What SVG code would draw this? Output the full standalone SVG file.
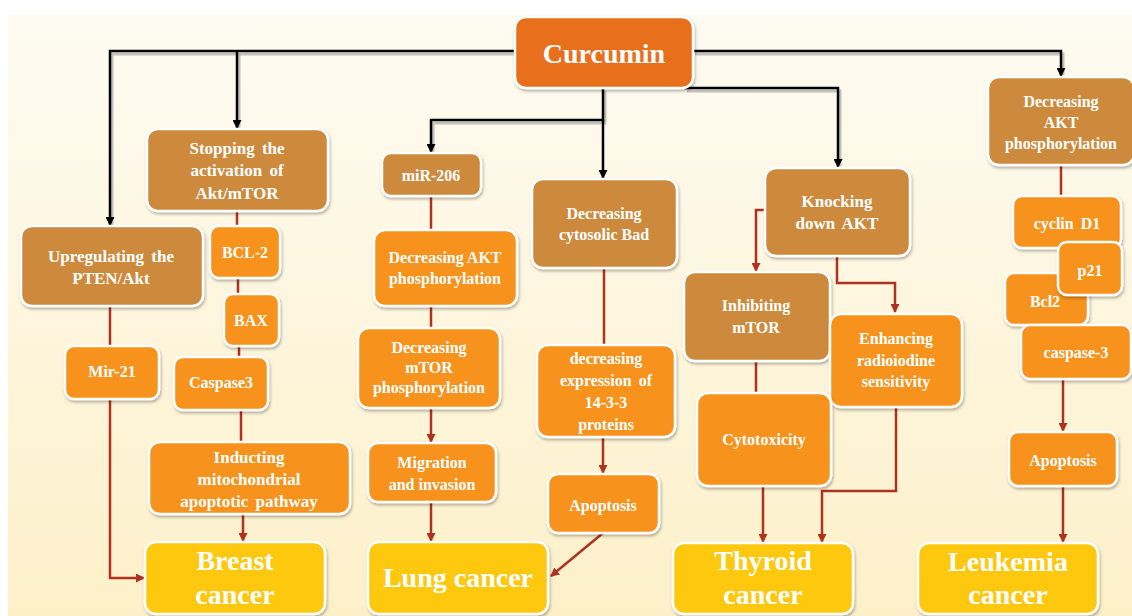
<svg xmlns="http://www.w3.org/2000/svg" width="1132" height="616" viewBox="0 0 1132 616">
<defs>
<linearGradient id="bg" x1="0" y1="0" x2="0" y2="1">
<stop offset="0" stop-color="#fefbf2"/>
<stop offset="1" stop-color="#fdf0c9"/>
</linearGradient>
<filter id="sh" x="-10%" y="-10%" width="120%" height="130%">
<feDropShadow dx="1" dy="2" stdDeviation="1.5" flood-color="#000" flood-opacity="0.3"/>
</filter>
<marker id="ab" markerUnits="userSpaceOnUse" markerWidth="9" markerHeight="9" refX="8" refY="4.5" orient="auto">
<path d="M0,0 L9,4.5 L0,9 z" fill="#000"/>
</marker>
<marker id="ar" markerUnits="userSpaceOnUse" markerWidth="9" markerHeight="9" refX="8" refY="4.5" orient="auto">
<path d="M0,0 L9,4.5 L0,9 z" fill="#b0321e"/>
</marker>
</defs>
<style>
.box{stroke:#fff;stroke-width:2.5;filter:url(#sh)}
.br{fill:#cd8a3d}
.or{fill:#f7931e}
.cu{fill:#e8701a}
.ca{fill:#fdc80c}
text{font-family:"Liberation Serif","Times New Roman",serif;font-weight:bold;fill:#fff;text-anchor:middle}
.t{font-size:16px}
.tb{font-size:17px;word-spacing:3px}
.big{font-size:28px}
.blk{fill:none;stroke:#000;stroke-width:2.5}
.bsh{fill:none;stroke:#9a9a9a;stroke-width:3;opacity:0.6}
.red{fill:none;stroke:#b0321e;stroke-width:2.5}
</style>
<rect x="0" y="0" width="1132" height="616" fill="#fff"/>
<rect x="8" y="15" width="1124" height="601" fill="url(#bg)"/>

<g id="connectors">
<g transform="translate(2,3)">
<path class="bsh" d="M515 51 H110 V222"/>
<path class="bsh" d="M237 51 V125"/>
<path class="bsh" d="M603 88 V120 H431 V149"/>
<path class="bsh" d="M693 51 H1061 V72"/>
<path class="bsh" d="M685 88 H838 V163"/>
</g>
<path class="blk" d="M515 51 H110 V225" marker-end="url(#ab)"/>
<path class="blk" d="M237 51 V128" marker-end="url(#ab)"/>
<path class="blk" d="M603 88 V120 H431 V152" marker-end="url(#ab)"/>
<path class="blk" d="M603 120 V178" marker-end="url(#ab)"/>
<path class="blk" d="M693 51 H1061 V76" marker-end="url(#ab)"/>
<path class="blk" d="M685 88 H838 V167" marker-end="url(#ab)"/>

<path class="red" d="M110 306 V346"/>
<path class="red" d="M110 399 V578 H144" marker-end="url(#ar)"/>
<path class="red" d="M237 211 V226"/>
<path class="red" d="M238 278 V294"/>
<path class="red" d="M239 346 V357"/>
<path class="red" d="M241 410 V442"/>
<path class="red" d="M243 514 V541" marker-end="url(#ar)"/>
<path class="red" d="M431 196 V230"/>
<path class="red" d="M431 306 V328"/>
<path class="red" d="M431 408 V442" marker-end="url(#ar)"/>
<path class="red" d="M431 502 V541" marker-end="url(#ar)"/>
<path class="red" d="M604 268 V345"/>
<path class="red" d="M603 437 V473" marker-end="url(#ar)"/>
<path class="red" d="M603 533 L551 576" marker-end="url(#ar)"/>
<path class="red" d="M765 210 H756 V271" marker-end="url(#ar)"/>
<path class="red" d="M837 256 V283 H895 V312" marker-end="url(#ar)"/>
<path class="red" d="M756 361 V393"/>
<path class="red" d="M763 486 V542" marker-end="url(#ar)"/>
<path class="red" d="M896 407 V491 H822 V542" marker-end="url(#ar)"/>
<path class="red" d="M1061 165 V196"/>
<path class="red" d="M1063 379 V431" marker-end="url(#ar)"/>
<path class="red" d="M1063 486 V542" marker-end="url(#ar)"/>
</g>

<g id="curcumin">
<rect class="box cu" x="515" y="17" width="178" height="71" rx="11"/>
<text class="big" x="604" y="63">Curcumin</text>
</g>

<g id="stopping">
<rect class="box br" x="147" y="129" width="181" height="82" rx="11"/>
<text class="tb" x="237" y="154">Stopping the</text>
<text class="tb" x="237" y="176">activation of</text>
<text class="tb" x="237" y="199">Akt/mTOR</text>
</g>
<g id="upregulating">
<rect class="box br" x="21" y="226" width="182" height="80" rx="11"/>
<text class="tb" x="111" y="262">Upregulating the</text>
<text class="tb" x="111" y="284">PTEN/Akt</text>
</g>
<g id="bcl2">
<rect class="box or" x="210" y="226" width="70" height="52" rx="9"/>
<text class="t" x="245" y="258">BCL-2</text>
</g>
<g id="bax">
<rect class="box or" x="224" y="294" width="55" height="52" rx="9"/>
<text class="t" x="251" y="326">BAX</text>
</g>
<g id="mir21">
<rect class="box or" x="65" y="346" width="94" height="53" rx="9"/>
<text class="t" x="112" y="377">Mir-21</text>
</g>
<g id="caspase3">
<rect class="box or" x="174" y="357" width="94" height="53" rx="9"/>
<text class="t" x="221" y="388">Caspase3</text>
</g>
<g id="inducting">
<rect class="box or" x="149" y="442" width="201" height="72" rx="11"/>
<text class="tb" x="249" y="463">Inducting</text>
<text class="tb" x="249" y="485">mitochondrial</text>
<text class="tb" x="249" y="507">apoptotic pathway</text>
</g>
<g id="breast">
<rect class="box ca" x="145" y="542" width="180" height="72" rx="11"/>
<text class="big" x="235" y="570">Breast</text>
<text class="big" x="235" y="604">cancer</text>
</g>

<g id="mir206">
<rect class="box br" x="382" y="153" width="99" height="43" rx="9"/>
<text class="t" x="431" y="181">miR-206</text>
</g>
<g id="decakt">
<rect class="box or" x="374" y="230" width="143" height="76" rx="11"/>
<text class="t" x="445" y="263">Decreasing AKT</text>
<text class="t" x="445" y="284">phosphorylation</text>
</g>
<g id="decmtor">
<rect class="box or" x="358" y="328" width="142" height="80" rx="11"/>
<text class="t" x="429" y="353">Decreasing</text>
<text class="t" x="429" y="373">mTOR</text>
<text class="t" x="429" y="393">phosphorylation</text>
</g>
<g id="migration">
<rect class="box or" x="368" y="443" width="128" height="59" rx="10"/>
<text class="t" x="432" y="468">Migration</text>
<text class="t" x="432" y="490">and invasion</text>
</g>
<g id="lung">
<rect class="box ca" x="368" y="542" width="180" height="72" rx="11"/>
<text class="big" x="458" y="587">Lung cancer</text>
</g>
<g id="bad">
<rect class="box br" x="532" y="179" width="145" height="89" rx="11"/>
<text class="t" x="604" y="219">Decreasing</text>
<text class="t" x="604" y="240">cytosolic Bad</text>
</g>
<g id="expr">
<rect class="box or" x="537" y="345" width="138" height="92" rx="11"/>
<text class="t" x="606" y="364">decreasing</text>
<text class="t" x="606" y="386" style="word-spacing:3px">expression of</text>
<text class="t" x="606" y="408">14-3-3</text>
<text class="t" x="606" y="430">proteins</text>
</g>
<g id="apoptosis-lung">
<rect class="box or" x="548" y="474" width="111" height="59" rx="10"/>
<text class="t" x="603" y="511">Apoptosis</text>
</g>

<g id="knocking">
<rect class="box br" x="765" y="168" width="145" height="88" rx="11"/>
<text class="tb" x="837" y="207">Knocking</text>
<text class="tb" x="837" y="229">down AKT</text>
</g>
<g id="inhibiting">
<rect class="box br" x="684" y="272" width="146" height="89" rx="11"/>
<text class="t" x="756" y="311">Inhibiting</text>
<text class="t" x="756" y="333">mTOR</text>
</g>
<g id="enhancing">
<rect class="box or" x="830" y="314" width="132" height="93" rx="11"/>
<text class="t" x="896" y="344">Enhancing</text>
<text class="t" x="896" y="366">radioiodine</text>
<text class="t" x="896" y="387">sensitivity</text>
</g>
<g id="cytotoxicity">
<rect class="box or" x="697" y="393" width="134" height="93" rx="11"/>
<text class="t" x="764" y="445">Cytotoxicity</text>
</g>
<g id="thyroid">
<rect class="box ca" x="673" y="543" width="180" height="71" rx="11"/>
<text class="big" x="763" y="570">Thyroid</text>
<text class="big" x="763" y="604">cancer</text>
</g>

<g id="decakt2">
<rect class="box br" x="988" y="77" width="146" height="88" rx="11"/>
<text class="t" x="1061" y="107">Decreasing</text>
<text class="t" x="1061" y="128">AKT</text>
<text class="t" x="1061" y="149">phosphorylation</text>
</g>
<g id="cyclind1">
<rect class="box or" x="1013" y="196" width="108" height="52" rx="9"/>
<text class="t" x="1067" y="229" style="word-spacing:3px">cyclin D1</text>
</g>
<g id="bcl2b">
<rect class="box or" x="1005" y="273" width="83" height="52" rx="9"/>
<text class="t" x="1045" y="307">Bcl2</text>
</g>
<g id="p21">
<rect class="box or" x="1058" y="242" width="64" height="53" rx="9"/>
<text class="t" x="1090" y="276">p21</text>
</g>
<g id="caspase3b">
<rect class="box or" x="1021" y="325" width="110" height="54" rx="9"/>
<text class="t" x="1076" y="358">caspase-3</text>
</g>
<g id="apoptosis-leuk">
<rect class="box or" x="1009" y="432" width="108" height="54" rx="9"/>
<text class="t" x="1063" y="466">Apoptosis</text>
</g>
<g id="leukemia">
<rect class="box ca" x="918" y="543" width="180" height="71" rx="11"/>
<text class="big" x="1008" y="571">Leukemia</text>
<text class="big" x="1008" y="604">cancer</text>
</g>
</svg>
